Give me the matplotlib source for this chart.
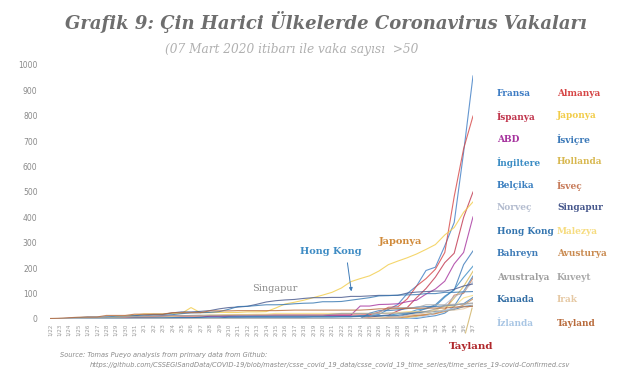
"""Coronavirus cases outside China, per country (Grafik 9)."""

import matplotlib.pyplot as plt

# dates 1/22 .. 3/7
dates = ([f"1/{d}" for d in range(22, 32)] + [f"2/{d}" for d in range(1, 30)]
         + [f"3/{d}" for d in range(1, 8)])

fransa = [0, 0, 2, 3, 3, 3, 4, 5, 5, 5,
          6, 6, 6, 6, 6, 6, 6, 11, 11, 11, 11, 11, 11, 11, 12, 12, 12, 12, 12,
          12, 12, 12, 12, 12, 14, 18, 38, 57, 100,
          130, 191, 204, 288, 380, 656, 957]
almanya = [0, 0, 0, 0, 0, 1, 4, 4, 4, 5,
           8, 10, 12, 12, 12, 12, 13, 13, 14, 14, 16, 16, 16, 16, 16, 16, 16,
           16, 16, 16, 16, 16, 16, 16, 17, 27, 46, 48, 79,
           130, 159, 196, 262, 482, 670, 799]
ispanya = [0] * 10 + [1] * 8 + [2] * 16 + [6, 13, 15, 32, 45] + \
    [84, 120, 165, 222, 259, 400, 500]
japonya = [2, 1, 2, 2, 4, 4, 7, 7, 11, 15,
           20, 20, 20, 22, 22, 45, 25, 25, 26, 26, 26, 28, 28, 29, 43, 59, 66,
           74, 84, 94, 105, 122, 147, 159, 170, 189, 214, 228, 241,
           256, 274, 293, 331, 360, 420, 461]
abd = [1, 1, 2, 2, 5, 5, 5, 5, 5, 7,
       8, 8, 11, 11, 11, 11, 11, 11, 11, 11, 12, 12, 13, 13, 13, 13, 13, 13,
       13, 13, 15, 15, 15, 51, 51, 57, 58, 60, 68,
       74, 98, 118, 149, 217, 262, 402]
isvicre = [0] * 34 + [1, 1, 8, 8, 18] + [27, 42, 56, 90, 114, 214, 268]
ingiltere = [0] * 9 + [2] + [2] * 6 + [3] * 3 + [8, 8] + [9] * 12 + \
    [13, 13, 13, 15, 20, 23] + [36, 40, 51, 86, 116, 164, 208]
hollanda = [0] * 36 + [1, 1, 6] + [10, 18, 24, 38, 82, 128, 188]
belcika = [0] * 13 + [1] * 26 + [2, 8, 13, 23, 50, 109, 169]
isvec = [0] * 9 + [1] + [1] * 25 + [2, 7, 7, 12] + \
    [14, 15, 21, 35, 94, 101, 161]
norvec = [0] * 35 + [1, 1, 6, 15] + [19, 25, 32, 56, 87, 108, 147]
singapur = [0, 1, 3, 3, 4, 5, 7, 7, 10, 13,
            16, 18, 18, 24, 28, 28, 30, 33, 40, 45, 47, 50, 58, 67, 72, 75,
            77, 81, 84, 84, 85, 85, 89, 89, 91, 93, 93, 93, 102,
            106, 108, 110, 110, 117, 130, 138]
hongkong = [0, 2, 2, 5, 8, 8, 8, 10, 10, 12,
            13, 15, 15, 17, 21, 24, 25, 26, 29, 38, 49, 50, 53, 56, 56, 57,
            60, 62, 63, 68, 68, 69, 74, 79, 84, 91, 92, 94, 95,
            96, 100, 100, 105, 105, 107, 108]
malezya = [0, 0, 0, 3, 4, 4, 4, 7, 8, 8,
           8, 8, 8, 10, 12, 12, 12, 16, 16, 18, 18, 18, 19, 19] + [22] * 12 + \
    [23, 25, 29] + [29, 29, 36, 50, 50, 83, 93]
bahreyn = [0] * 33 + [1, 23, 33, 33, 36, 41] + [47, 49, 49, 52, 55, 60, 85]
avusturya = [0] * 34 + [2, 2, 3, 3, 9] + [14, 18, 21, 29, 41, 55, 79]
avustralya = [0, 0, 0, 0, 4, 5, 5, 6, 9, 9,
              12, 12, 12, 13, 13, 14] + [15] * 14 + [19, 22, 22, 22, 22, 22,
                                                     23, 23, 25] + \
    [27, 30, 39, 52, 55, 60, 63]
kuveyt = [0] * 33 + [1, 11, 26, 43, 45, 45] + [45, 56, 56, 56, 58, 58, 61]
kanada = [0, 0, 0, 0, 1, 1, 2, 2, 2, 4,
          4, 4, 4, 4, 5, 5] + [7] * 12 + [8, 8, 8, 9, 9, 10, 11, 11, 13, 14,
                                          20] + [24, 27, 30, 33, 37, 49, 54]
irak = [0] * 33 + [1, 5, 6, 7, 8, 13] + [19, 26, 32, 35, 35, 40, 54]
izlanda = [0] * 37 + [1, 1] + [6, 11, 26, 34, 43, 50, 50]
tayland = [2, 3, 5, 7, 8, 8, 14, 14, 14, 19,
           19, 19, 19, 25, 25, 25, 25, 32, 32, 32, 33, 33, 33, 33, 33, 34] + \
    [35] * 8 + [37, 40, 40, 41, 42] + [42, 43, 43, 43, 47, 48, 50]

# legend order: (label, series, colour), left column then right column
countries = [
    ("Fransa", fransa, "#3d7cc4"), ("Almanya", almanya, "#d64545"),
    ("İspanya", ispanya, "#c0344c"), ("Japonya", japonya, "#f2cc48"),
    ("ABD", abd, "#a6339e"), ("İsviçre", isvicre, "#3a78b8"),
    ("İngiltere", ingiltere, "#3a8cc4"), ("Hollanda", hollanda, "#d8b850"),
    ("Belçika", belcika, "#3a7fc0"), ("İsveç", isvec, "#c77b5a"),
    ("Norveç", norvec, "#b3bccf"), ("Singapur", singapur, "#46578c"),
    ("Hong Kong", hongkong, "#3576b0"), ("Malezya", malezya, "#f6dc80"),
    ("Bahreyn", bahreyn, "#3f7cb8"), ("Avusturya", avusturya, "#c98a50"),
    ("Avustralya", avustralya, "#9e9e9e"), ("Kuveyt", kuveyt, "#a9a9a9"),
    ("Kanada", kanada, "#336ea4"), ("Irak", irak, "#e6c9a4"),
    ("İzlanda", izlanda, "#a9c6e4"), ("Tayland", tayland, "#b86a3a"),
]

W, H = 640, 380
fig = plt.figure(figsize=(6.4, 3.8), dpi=100)
ax = fig.add_axes([50 / W, 1 - 319 / H, (473 - 50) / W, (319 - 65) / H])

x = list(range(len(dates)))
for name, vals, col in countries:
    ax.plot(x, vals, color=col, lw=0.8, alpha=0.8)

ax.set_xlim(0, len(dates) - 1)
ax.set_ylim(0, 1000)
ax.set_yticks(range(0, 1001, 100))
ax.set_xticks(x)
ax.set_xticklabels(dates, rotation=90, fontsize=4, color="#9a9a9a")
ax.tick_params(axis="y", labelsize=5.5, labelcolor="#8a8a8a", length=0, pad=9)
ax.tick_params(axis="x", length=0, pad=3)
for s in ax.spines.values():
    s.set_visible(False)

# in-chart labels
ax.text(23.9, 122, "Singapur", fontsize=7, color="#8c8c8c", family="DejaVu Serif",
        ha="center", va="center")
ax.text(29.9, 264, "Hong Kong", fontsize=7, color="#3f8cc4", family="DejaVu Serif",
        weight="bold", ha="center", va="center")
ax.annotate("", xy=(32.1, 98), xytext=(31.6, 232),
            arrowprops=dict(arrowstyle="-|>", color="#3f7cb8", lw=0.7,
                            mutation_scale=5))
ax.text(37.3, 307, "Japonya", fontsize=7, color="#d08a3a", family="DejaVu Serif",
        weight="bold", ha="center", va="center")
ax.plot([44.2, 44.9], [-55, 43], color="#d8c080", lw=0.8, clip_on=False)
ax.text(44.8, -110, "Tayland", fontsize=7.5, color="#b0282c", family="DejaVu Serif",
        weight="bold", ha="center", va="center", clip_on=False)

# legend as coloured text in two columns
for i, (name, vals, col) in enumerate(countries):
    row, colm = divmod(i, 2)
    fx = (497 if colm == 0 else 557) / W
    fy = 1 - (93 + 23 * row) / H
    fig.text(fx, fy, name, fontsize=6.5, color=col, family="DejaVu Serif",
             weight="bold", ha="left", va="center")

fig.text(326 / W, 1 - 22 / H, "Grafik 9: Çin Harici Ülkelerde Coronavirus Vakaları",
         fontsize=13, color="#6e6e6e", family="DejaVu Serif", weight="bold",
         style="italic", ha="center", va="center")
fig.text(165 / W, 1 - 50 / H, "(07 Mart 2020 itibarı ile vaka sayısı  >50",
         fontsize=8.7, color="#b0b0b0", family="DejaVu Serif", style="italic",
         ha="left", va="center")
fig.text(60 / W, 1 - 355 / H,
         "Source: Tomas Pueyo analysis from primary data from Github:",
         fontsize=4.8, color="#8a8a8a", style="italic", ha="left", va="center")
fig.text(90 / W, 1 - 365 / H,
         "https://github.com/CSSEGISandData/COVID-19/blob/master/csse_covid_19_data/"
         "csse_covid_19_time_series/time_series_19-covid-Confirmed.csv",
         fontsize=4.8, color="#8a8a8a", style="italic", ha="left", va="center")

fig.savefig("out.png", dpi=100)
